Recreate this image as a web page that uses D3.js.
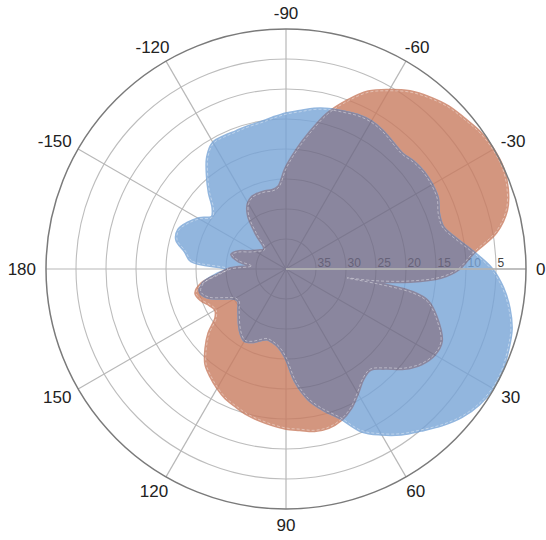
<!DOCTYPE html>
<html><head><meta charset="utf-8">
<script src="https://cdn.jsdelivr.net/npm/d3@7"></script>
<style>body{margin:0;background:#fff}svg{display:block}</style>
</head><body>
<script>
// ---- data ----
const angleTicks = [0, 30, 60, 90, 120, 150, 180, -150, -120, -90, -60, -30];
const radialTicks = [35, 30, 25, 20, 15, 10, 5];
const radialDomain = [40, 0];

const orangeAngles = [-180,-175,-170,-165,-160,-155,-150,-145,-140,-135,-130,-125,-120,-115,-110,-105,-100,-95,-90,-85,-80,-75,-70,-65,-60,-55,-50,-45,-40,-35,-30,-25,-20,-15,-10,-5,0,3,5.5,7.5,8.3,9.2,10.7,13,18,25,30,35,40,45,50,55,60,65,70,75,80,85,90,95,100,105,110,115,120,125,130,135,140,145,150,155,160,165,170,175];
const orangeValues = [30.8,34.2,32.0,30.7,31.7,33.3,34.2,34.8,35.2,35.0,32.5,29.2,27.5,26.8,26.7,26.7,26.8,26.3,23.3,20.3,17.0,13.3,10.3,7.5,5.7,4.0,2.8,1.8,1.2,0.5,0.2,0.2,0.8,2.0,4.5,8.7,11.3,14.2,19.2,25.0,29.7,24.7,18.5,15.8,13.7,11.5,11.5,12.5,14.3,16.7,18.2,17.7,16.2,14.5,13.3,12.7,12.7,13.2,13.5,14.0,14.5,15.0,15.7,16.3,17.2,18.2,19.3,21.2,23.3,25.8,26.5,26.0,25.0,24.5,25.8,28.7];

const blueAngles = [-180,-175,-170,-165,-160,-155,-150,-145,-140,-135,-130,-125,-120,-115,-110,-105,-100,-95,-90,-85,-80,-75,-70,-65,-60,-55,-50,-45,-40,-35,-30,-25,-20,-15,-10,-5,0,5,10,15,20,25,30,35,40,45,50,55,60,65,70,75,80,85,90,95,100,105,110,115,120,125,130,135,140,145,150,155,160,165,170,175];
const blueValues = [30.3,24.2,23.0,21.2,21.0,22.0,23.3,25.0,24.2,22.0,19.7,17.3,15.8,15.7,15.7,15.5,15.3,14.8,14.2,13.7,13.0,12.5,12.2,11.8,11.7,12.0,12.5,12.8,12.3,12.0,12.0,12.2,13.0,13.0,11.3,8.7,5.8,3.8,2.3,1.2,0.7,0.3,0.3,0.8,1.8,3.3,5.0,6.5,8.3,10.3,13.7,15.8,18.0,21.2,25.3,27.0,27.7,28.0,27.5,26.7,26.3,27.0,28.0,29.0,29.8,30.5,30.3,28.7,26.3,25.3,26.0,28.3];

// ---- layout ----
const W = 546, H = 540, cx = 286, cy = 269, R = 240;
const svg = d3.select("body").append("svg").attr("width", W).attr("height", H);
const rs = d3.scaleLinear().domain(radialDomain).range([0, R]);
const rad = d => d * Math.PI / 180;
const g = svg.append("g").attr("transform", `translate(${cx},${cy})`);

// grid rings
g.append("g").selectAll("circle").data(radialTicks).join("circle")
  .attr("r", d => rs(d)).attr("fill", "none").attr("stroke", "#bdbdbd").attr("stroke-width", 1.1);
// spokes
g.append("g").selectAll("line").data(angleTicks.filter(a => a !== 0)).join("line")
  .attr("x1", 0).attr("y1", 0)
  .attr("x2", d => R * Math.cos(rad(d))).attr("y2", d => R * Math.sin(rad(d)))
  .attr("stroke", "#b8b8b8").attr("stroke-width", 1.2);
// radial labels
g.append("g").selectAll("text").data(radialTicks).join("text")
  .attr("x", d => rs(d) + 1.5).attr("y", -2)
  .attr("font-family", "Liberation Sans, Arial, sans-serif").attr("font-size", 12)
  .attr("fill", "#444").text(d => d);

// ---- series ----
const line = d3.lineRadial()
  .angle(d => rad(d[0] + 90))
  .radius(d => rs(d[1]))
  .curve(d3.curveCatmullRomClosed.alpha(0.5));
const orangeData = orangeAngles.map((a, i) => [a, orangeValues[i]]);
const blueData = blueAngles.map((a, i) => [a, blueValues[i]]);
const dO = line(orangeData), dB = line(blueData);

const defs = svg.append("defs");
const mask = defs.append("mask").attr("id", "mO").attr("maskUnits", "userSpaceOnUse")
  .attr("x", -300).attr("y", -300).attr("width", 600).attr("height", 600);
mask.append("path").attr("d", dO).attr("fill", "#fff").attr("stroke", "#fff").attr("stroke-width", 4);

const fills = g.append("g").attr("opacity", 0.8);
fills.append("path").attr("d", dO).attr("fill", "#c97c60").attr("stroke", "#c97c60").attr("stroke-width", 4).attr("stroke-linejoin", "round");
fills.append("path").attr("d", dB).attr("fill", "#77a4d7").attr("stroke", "#77a4d7").attr("stroke-width", 4).attr("stroke-linejoin", "round");
fills.append("path").attr("d", dB).attr("fill", "#6e6986").attr("stroke", "#6e6986").attr("stroke-width", 4).attr("stroke-linejoin", "round").attr("mask", "url(#mO)");

// dashed white edge lines
[dO, dB].forEach(d => {
  g.append("path").attr("d", d).attr("fill", "none").attr("stroke", "#fff")
    .attr("stroke-width", 0.8).attr("stroke-dasharray", "3,2").attr("opacity", 0.5);
});

// radial axis line (angle 0)
g.append("line").attr("x1", 0).attr("y1", 0).attr("x2", R).attr("y2", 0)
  .attr("stroke", "#b4b4b4").attr("stroke-width", 2).attr("opacity", 0.85);

// outer circle
g.append("circle").attr("r", R).attr("fill", "none").attr("stroke", "#7a7a7a").attr("stroke-width", 1.5);

// angular labels
const lab = g.append("g").selectAll("text").data(angleTicks).join("text")
  .attr("font-family", "Liberation Sans, Arial, sans-serif").attr("font-size", 17)
  .attr("fill", "#222").attr("text-anchor", "middle").text(d => d);
lab.each(function(d) {
  const t = d3.select(this);
  const w = this.getComputedTextLength();
  const c = Math.cos(rad(d)), s = Math.sin(rad(d));
  const gap = R + 10;
  const x = gap * c + (w / 2) * c;
  const y = gap * s + 6 * s + 6;
  t.attr("x", x).attr("y", y);
});
</script>
</body></html>
